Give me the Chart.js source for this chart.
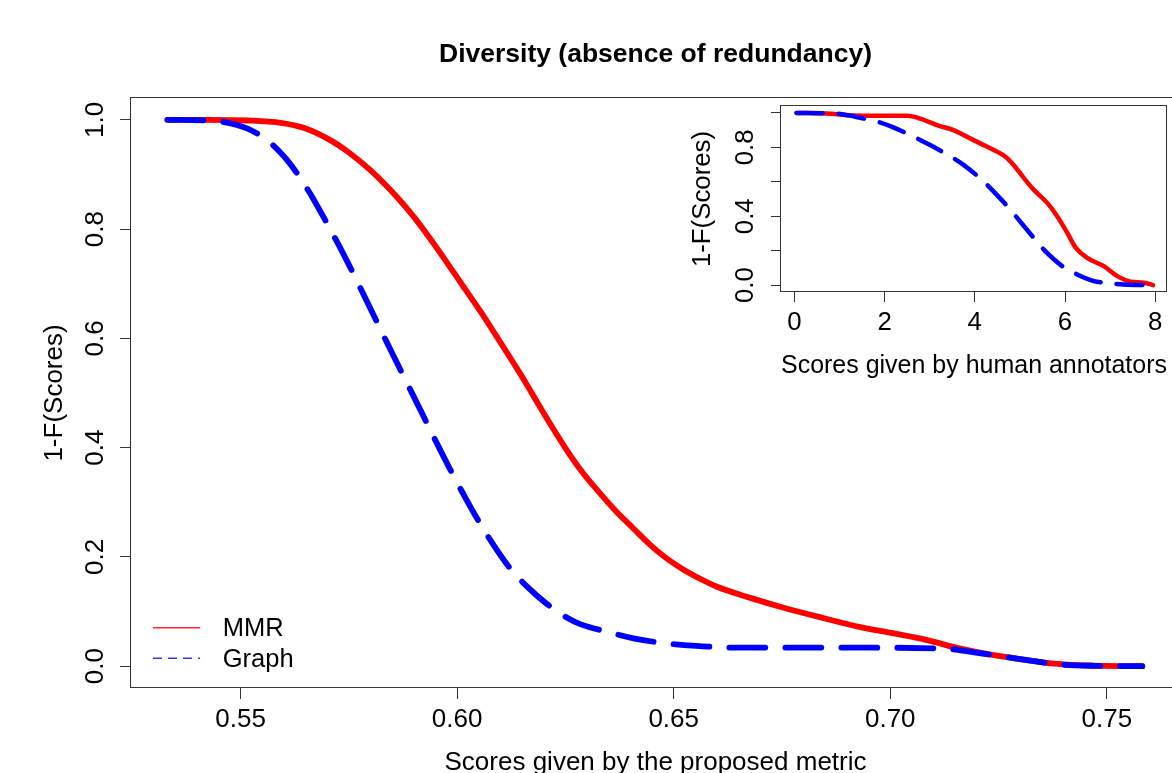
<!DOCTYPE html>
<html><head><meta charset="utf-8">
<script src="https://cdn.jsdelivr.net/npm/chart.js@4.4.1/dist/chart.umd.min.js"></script>
<style>
html,body{margin:0;padding:0;background:#fff;overflow:hidden;width:1172px;height:773px;}
#main{position:absolute;left:0;top:0;}
#inset{position:absolute;left:680px;top:90px;}
</style></head><body>
<canvas id="main" width="1200" height="800"></canvas>
<canvas id="inset" width="520" height="310"></canvas>
<script>
// ---- text ----
const chartTitle = 'Diversity (absence of redundancy)';
const mainXTitle = 'Scores given by the proposed metric';
const yTitleText = '1-F(Scores)';
const insetXTitle = 'Scores given by human annotators';
const seriesNames = ['MMR', 'Graph'];

// ---- ticks ----
const mainXTicks = [0.55, 0.60, 0.65, 0.70, 0.75];
const mainXTickLabels = ['0.55', '0.60', '0.65', '0.70', '0.75'];
const mainYTicks = [0, 0.2, 0.4, 0.6, 0.8, 1.0];
const mainYTickLabels = ['0.0', '0.2', '0.4', '0.6', '0.8', '1.0'];
const insetXTicks = [0, 2, 4, 6, 8];
const insetXTickLabels = ['0', '2', '4', '6', '8'];
const insetYTicks = [0, 0.2, 0.4, 0.6, 0.8, 1.0];
const insetYTickLabels = ['0.0', '', '0.4', '', '0.8', ''];

// ---- main chart data (proposed metric) ----
const mmrX = [0.5331, 0.5424, 0.5516, 0.5593, 0.5647, 0.5709, 0.5747, 0.5801, 0.5863, 0.5901, 0.5940, 0.5978, 0.6016, 0.6055, 0.6094, 0.6132, 0.6157, 0.6176, 0.6214, 0.6253, 0.6291, 0.6330, 0.6368, 0.6407, 0.6445, 0.6484, 0.6522, 0.6561, 0.6600, 0.6677, 0.6754, 0.6831, 0.6931, 0.7008, 0.7085, 0.7162, 0.7239, 0.7316, 0.7370, 0.7470, 0.7582];
const mmrY = [1.0, 1.0, 0.9988, 0.9945, 0.985, 0.962, 0.942, 0.907, 0.857, 0.8215, 0.780, 0.737, 0.693, 0.648, 0.600, 0.5525, 0.5207, 0.495, 0.4445, 0.3956, 0.353, 0.3163, 0.2826, 0.252, 0.2226, 0.197, 0.177, 0.160, 0.1453, 0.125, 0.107, 0.091, 0.0715, 0.060, 0.0476, 0.032, 0.020, 0.011, 0.005, 0.001, 0.0];
const graphX = [0.5331, 0.5420, 0.5462, 0.5516, 0.5555, 0.5593, 0.5616, 0.5647, 0.5666, 0.5693, 0.5739, 0.5778, 0.5824, 0.5863, 0.5907, 0.5945, 0.5984, 0.6022, 0.6053, 0.6092, 0.6122, 0.6161, 0.6207, 0.6253, 0.6284, 0.6346, 0.6407, 0.6484, 0.6561, 0.6638, 0.6869, 0.7117, 0.7162, 0.7239, 0.7316, 0.7393, 0.7470, 0.7582];
const graphY = [1.0, 0.9988, 0.996, 0.984, 0.9665, 0.9395, 0.918, 0.882, 0.858, 0.820, 0.752, 0.690, 0.615, 0.552, 0.482, 0.421, 0.360, 0.304, 0.261, 0.2123, 0.1793, 0.146, 0.114, 0.089, 0.077, 0.063, 0.051, 0.0415, 0.0366, 0.034, 0.034, 0.0324, 0.029, 0.020, 0.011, 0.003, 0.0006, 0.0];

// ---- inset data (human annotators) ----
const mmrHumanX = [0.05, 0.72, 1.17, 1.91, 2.50, 2.79, 3.16, 3.53, 3.75, 4.12, 4.49, 4.68, 4.86, 5.09, 5.31, 5.61, 5.83, 6.05, 6.24, 6.49, 6.86, 7.16, 7.45, 7.75, 7.95];
const mmrHumanY = [1.0, 0.996, 0.987, 0.983, 0.983, 0.967, 0.929, 0.900, 0.871, 0.823, 0.775, 0.746, 0.698, 0.621, 0.553, 0.476, 0.399, 0.303, 0.216, 0.158, 0.110, 0.052, 0.020, 0.014, 0.0];
const graphHumanX = [0.05, 0.91, 1.54, 1.91, 2.17, 2.72, 3.01, 3.53, 3.75, 4.20, 4.42, 4.79, 4.97, 5.34, 5.53, 5.94, 6.19, 6.64, 6.86, 7.30, 7.95];
const graphHumanY = [1.0, 0.996, 0.967, 0.944, 0.919, 0.852, 0.813, 0.736, 0.698, 0.601, 0.543, 0.438, 0.380, 0.264, 0.206, 0.110, 0.072, 0.023, 0.014, 0.004, 0.0];

const FONT = '"Liberation Sans", Arial, Helvetica, sans-serif';
const RED = '#ff0000', BLUE = '#0000ff', AXIS = '#333333';
function pts(xs, ys) { return xs.map((x, i) => ({ x: x, y: ys[i] })); }

const decor = {
  id: 'decor',
  afterDraw(chart, args, o) {
    const { ctx, chartArea: a, scales } = chart;
    ctx.save();
    ctx.strokeStyle = AXIS; ctx.lineWidth = 1;
    ctx.strokeRect(a.left - 0.5, a.top - 0.5, a.right - a.left, a.bottom - a.top);
    ctx.fillStyle = '#000';
    ctx.font = o.tickFont;
    ctx.textAlign = 'center'; ctx.textBaseline = 'middle';
    o.yTicks.forEach((v, i) => {
      const lab = o.yLabels[i];
      if (!lab) return;
      const py = scales.y.getPixelForValue(v);
      ctx.save(); ctx.translate(o.yLabelX, py); ctx.rotate(-Math.PI / 2);
      ctx.fillText(lab, 0, 0); ctx.restore();
    });
    if (o.title) {
      ctx.font = 'bold 26.5px ' + FONT;
      ctx.fillText(o.title, (a.left + a.right) / 2, o.titleY);
    }
    if (o.legend) {
      const L = o.legend;
      ctx.lineWidth = 1.4;
      ctx.strokeStyle = 'rgba(255,0,0,0.85)';
      ctx.setLineDash([]);
      ctx.beginPath(); ctx.moveTo(L.x0, L.y[0]); ctx.lineTo(L.x1, L.y[0]); ctx.stroke();
      ctx.strokeStyle = 'rgba(0,0,255,0.8)';
      ctx.setLineDash([9, 6]);
      ctx.beginPath(); ctx.moveTo(L.x0, L.y[1]); ctx.lineTo(L.x1, L.y[1]); ctx.stroke();
      ctx.setLineDash([]);
      ctx.font = '25.5px ' + FONT;
      ctx.textAlign = 'left';
      L.names.forEach((n, i) => ctx.fillText(n, L.tx, L.ty[i]));
    }
    ctx.restore();
  }
};

function makeChart(id, cfg) {
  return new Chart(document.getElementById(id), {
    type: 'scatter',
    data: {
      datasets: [
        { label: seriesNames[0], data: pts(cfg.mx, cfg.my), borderColor: RED, borderWidth: cfg.lw,
          showLine: true, pointRadius: 0, cubicInterpolationMode: 'monotone', borderCapStyle: 'round', borderJoinStyle: 'round', order: 2 },
        { label: seriesNames[1], data: pts(cfg.gx, cfg.gy), borderColor: BLUE, borderWidth: cfg.lw,
          showLine: true, pointRadius: 0, cubicInterpolationMode: 'monotone', borderCapStyle: 'round', borderJoinStyle: 'round',
          borderDash: cfg.dash, order: 1 }
      ]
    },
    options: {
      responsive: false, animation: false, devicePixelRatio: 1,
      layout: { padding: cfg.pad },
      events: [],
      scales: {
        x: {
          type: 'linear', min: cfg.xmin, max: cfg.xmax,
          afterBuildTicks: s => { s.ticks = cfg.xTicks.map(v => ({ value: v })); },
          afterFit: s => { s.height = cfg.xh; },
          ticks: { callback: (v, i) => cfg.xLabels[i], color: '#000', font: { family: FONT, size: cfg.fs }, padding: cfg.xpad, maxRotation: 0, autoSkip: false },
          grid: { drawOnChartArea: false, drawTicks: true, tickLength: cfg.tl, color: AXIS, lineWidth: 1 },
          border: { display: false },
          title: { display: true, text: cfg.xTitle, color: '#000', font: { family: FONT, size: cfg.fs, lineHeight: 1 }, padding: { top: 0, bottom: cfg.xtp } }
        },
        y: {
          type: 'linear', min: -0.04, max: 1.04,
          afterBuildTicks: s => { s.ticks = cfg.yTicks.map(v => ({ value: v })); },
          afterFit: s => { s.width = cfg.yw; },
          ticks: { display: false },
          grid: { drawOnChartArea: false, drawTicks: true, tickLength: cfg.tl, color: AXIS, lineWidth: 1 },
          border: { display: false },
          title: { display: true, text: yTitleText, color: '#000', font: { family: FONT, size: cfg.fs, lineHeight: 1 }, padding: { top: cfg.ytp, bottom: 0 } }
        }
      },
      plugins: {
        legend: { display: false }, tooltip: { enabled: false },
        decor: {
          tickFont: cfg.fs + 'px ' + FONT, yTicks: cfg.yTicks, yLabels: cfg.yLabels, yLabelX: cfg.ylx,
          title: cfg.title, titleY: cfg.titleY, legend: cfg.legend
        }
      }
    },
    plugins: [decor]
  });
}

makeChart('main', {
  mx: mmrX, my: mmrY, gx: graphX, gy: graphY, lw: 5.8, dash: [36, 20],
  pad: { left: 0, top: 98, right: 20, bottom: 0 },
  xmin: 0.5247, xmax: 0.7669, xTicks: mainXTicks, xLabels: mainXTickLabels,
  yTicks: mainYTicks, yLabels: mainYTickLabels,
  xh: 112, yw: 131, fs: 26, tl: 11, xpad: 5.4, xtp: 24, ytp: 42, ylx: 96,
  xTitle: mainXTitle, title: chartTitle, titleY: 54.5,
  legend: { x0: 153, x1: 200, y: [627.7, 658.3], tx: 222.7, ty: [628.8, 659.5], names: seriesNames }
});

makeChart('inset', {
  mx: mmrHumanX, my: mmrHumanY, gx: graphHumanX, gy: graphHumanY, lw: 4.5, dash: [26, 16],
  pad: { left: 0, top: 16, right: 33, bottom: 0 },
  xmin: -0.295, xmax: 8.26, xTicks: insetXTicks, xLabels: insetXTickLabels,
  yTicks: insetYTicks, yLabels: insetYTickLabels,
  xh: 108, yw: 101, fs: 25.8, tl: 10, xpad: 5.3, xtp: 21.5, ytp: 10.1, ylx: 65.5,
  xTitle: insetXTitle, title: null, legend: null
});
</script>
</body></html>
